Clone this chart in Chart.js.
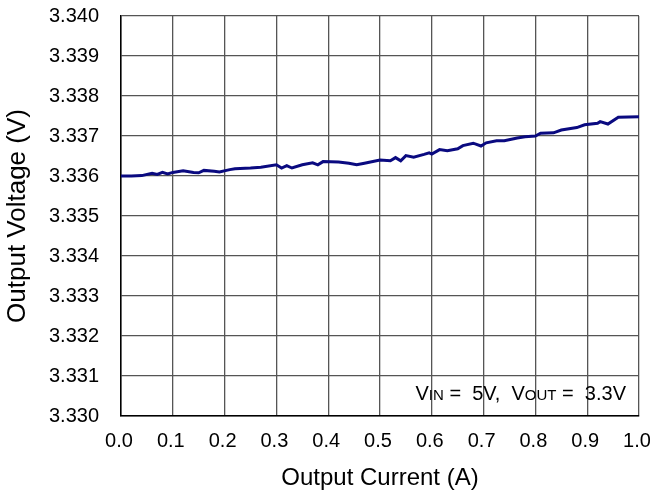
<!DOCTYPE html>
<html>
<head>
<meta charset="utf-8">
<script src="https://cdn.jsdelivr.net/npm/chart.js@4"></script>
<style>
  html, body { margin: 0; padding: 0; background: #fff; }
  #wrap { width: 650px; height: 499px; }
</style>
</head>
<body>
<div id="wrap"><canvas id="chart1"></canvas></div>
<script>
    // output current (A) and output voltage (V)
    var current = [0.00, 0.02, 0.04, 0.06, 0.07, 0.08, 0.09, 0.10, 0.12, 0.14, 0.15, 0.16, 0.18, 0.19,
        0.21, 0.22, 0.25, 0.27, 0.30, 0.31, 0.32, 0.33, 0.35, 0.37, 0.38, 0.39, 0.42, 0.44, 0.455,
        0.47, 0.50, 0.52, 0.53, 0.54, 0.55, 0.565, 0.585, 0.595, 0.60, 0.615, 0.63, 0.65, 0.66,
        0.68, 0.695, 0.705, 0.725, 0.74, 0.765, 0.78, 0.80, 0.81, 0.835, 0.85, 0.88, 0.895, 0.92,
        0.925, 0.94, 0.96, 1.00];
    var voltage = [3.33600, 3.33600, 3.33601, 3.33607, 3.33604, 3.33609, 3.33605, 3.33609, 3.33613,
        3.33609, 3.33608, 3.33614, 3.33612, 3.33610, 3.33616, 3.33618, 3.33620, 3.33622, 3.33628,
        3.33620, 3.33626, 3.33620, 3.33628, 3.33633, 3.33628, 3.33636, 3.33635, 3.33632, 3.33628,
        3.33632, 3.33640, 3.33638, 3.33646, 3.33638, 3.33651, 3.33647, 3.33654, 3.33658, 3.33655,
        3.33666, 3.33663, 3.33668, 3.33676, 3.33682, 3.33675, 3.33683, 3.33688, 3.33688, 3.33695,
        3.33698, 3.33700, 3.33707, 3.33708, 3.33715, 3.33721, 3.33728, 3.33732, 3.33736, 3.33730,
        3.33747, 3.33748];

    var xTicks = [0.0, 0.1, 0.2, 0.3, 0.4, 0.5, 0.6, 0.7, 0.8, 0.9, 1.0];
    var yTicks = [3.330, 3.331, 3.332, 3.333, 3.334, 3.335, 3.336, 3.337, 3.338, 3.339, 3.340];
    var note = [['V', 'IN'], [' =  5V,  V', ''], ['', 'OUT'], [' =  3.3V', '']];

    var fontFam = '"Liberation Sans", Arial, sans-serif';
    var points = current.map(function(c, i) { return { x: c, y: voltage[i] }; });

    // condition text in the lower right corner
    var notePlugin = {
        id: 'note',
        afterDraw: function(chart) {
            var ctx = chart.ctx, area = chart.chartArea;
            var big = '20px ' + fontFam, small = '15px ' + fontFam;
            var parts = [];
            note.forEach(function(n) {
                if (n[0]) parts.push([n[0], big]);
                if (n[1]) parts.push([n[1], small]);
            });
            ctx.save();
            var total = 0;
            parts.forEach(function(p) { ctx.font = p[1]; total += ctx.measureText(p[0]).width; });
            var x = area.right - 13 - total, y = area.bottom - 16;
            ctx.fillStyle = '#000';
            ctx.textBaseline = 'alphabetic';
            parts.forEach(function(p) {
                ctx.font = p[1];
                ctx.fillText(p[0], x, y);
                x += ctx.measureText(p[0]).width;
            });
            ctx.restore();
        }
    };

    var ctx = document.getElementById('chart1').getContext('2d');
    var myChart = new Chart(ctx, {
        type: 'line',
        data: {
            datasets: [{
                label: 'Output Voltage',
                data: points,
                borderColor: '#0a0a80',
                borderWidth: 3,
                pointRadius: 0,
                tension: 0,
                fill: false
            }]
        },
        options: {
            responsive: true,
            maintainAspectRatio: false,
            animation: false,
            layout: { padding: 0 },
            plugins: {
                legend: { display: false },
                tooltip: { enabled: false }
            },
            scales: {
                x: {
                    type: 'linear',
                    min: 0,
                    max: 1,
                    afterBuildTicks: function(scale) {
                        scale.ticks = xTicks.map(function(v) { return { value: v }; });
                    },
                    afterFit: function(scale) {
                        scale.height = 83;
                        scale.paddingLeft = 0;
                        scale.paddingRight = 11;
                    },
                    ticks: {
                        padding: 13,
                        labelOffset: -2,
                        color: '#000',
                        font: { family: fontFam, size: 20 },
                        callback: function(v) { return v.toFixed(1); }
                    },
                    grid: { color: '#555', lineWidth: 1.3, drawTicks: false },
                    border: { color: '#000', width: 1.5 },
                    title: {
                        display: true,
                        text: 'Output Current (A)',
                        color: '#000',
                        font: { family: fontFam, size: 24 },
                        padding: { top: 0, bottom: 6 }
                    }
                },
                y: {
                    min: 3.330,
                    max: 3.340,
                    afterBuildTicks: function(scale) {
                        scale.ticks = yTicks.map(function(v) { return { value: v }; });
                    },
                    afterFit: function(scale) {
                        scale.width = 121;
                        scale.paddingTop = 16;
                        scale.paddingBottom = 0;
                    },
                    ticks: {
                        padding: 22,
                        color: '#000',
                        font: { family: fontFam, size: 20 },
                        callback: function(v) { return v.toFixed(3); }
                    },
                    grid: { color: '#555', lineWidth: 1.3, drawTicks: false },
                    border: { color: '#000', width: 1.5 },
                    title: {
                        display: true,
                        text: 'Output Voltage (V)',
                        color: '#000',
                        font: { family: fontFam, size: 26 },
                        padding: { top: 2, bottom: 0 }
                    }
                }
            }
        },
        plugins: [notePlugin]
    });
</script>
</body>
</html>
